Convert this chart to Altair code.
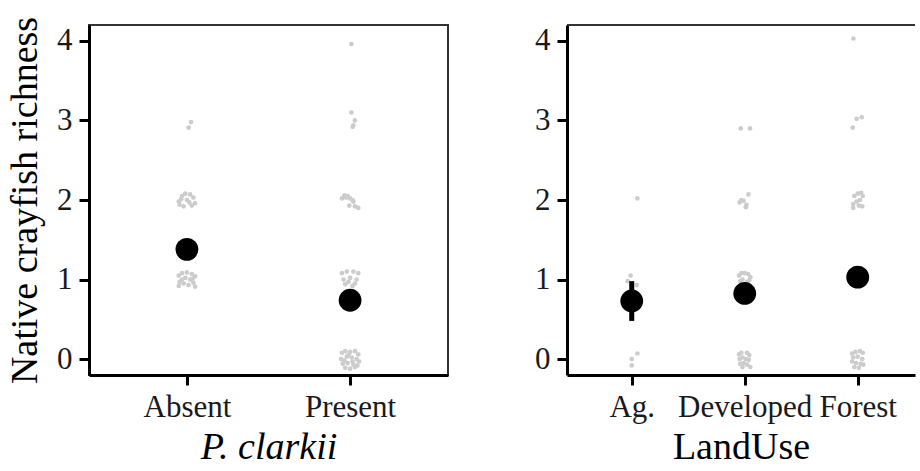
import json
import altair as alt
import pandas as pd

# ---------------- data ----------------
clarkii_levels = ["Absent", "Present"]
landuse_levels = ["Ag.", "Developed", "Forest"]

# raw site observations: horizontal jitter (in category units) and jittered richness
absent_dx = [0.025, 0.011,
             -0.05, -0.03, -0.01, 0.02, 0.04, 0.05, 0.03, -0.02, -0.045, 0.0, 0.015, -0.035,
             -0.05, -0.03, 0.0, 0.03, 0.05, -0.045, -0.02, 0.01, 0.04, 0.05, -0.05, -0.01, 0.02, -0.03, 0.035]
absent_y = [2.98, 2.91,
            1.98, 2.05, 2.08, 2.07, 2.03, 1.96, 1.93, 1.92, 1.94, 2.0, 1.97, 2.01,
            1.05, 1.08, 1.09, 1.07, 1.04, 0.97, 0.95, 0.93, 0.96, 0.91, 0.92, 1.02, 1.0, 1.0, 1.01]

present_dx = [0.008,
              0.008, 0.029, 0.02, 0.016,
              -0.05, -0.035, -0.015, 0.0, 0.02, 0.03, 0.05, -0.005, 0.015, -0.025,
              -0.05, -0.02, 0.02, 0.05, -0.04, 0.0, 0.04, -0.03, 0.03, -0.01, 0.015,
              -0.05, -0.03, 0.0, 0.03, 0.05, -0.055, -0.02, 0.01, 0.04, 0.055,
              -0.045, -0.015, 0.02, 0.045, -0.03, 0.0, 0.03, -0.01, 0.015, -0.035]
present_y = [3.96,
             3.10, 3.0, 2.94, 2.92,
             2.02, 2.06, 2.05, 2.02, 1.98, 1.92, 1.9, 1.93, 2.0, 2.03,
             1.08, 1.1, 1.1, 1.08, 1.0, 1.02, 1.0, 0.94, 0.95, 0.97, 0.92,
             0.08, 0.1, 0.09, 0.1, 0.06, 0.0, 0.03, 0.02, 0.0, -0.03,
             -0.06, -0.05, -0.07, -0.08, -0.11, -0.12, -0.1, 0.05, -0.03, -0.02]

ag_dx = [0.05, -0.01, -0.035, 0.045, 0.05, 0.0, 0.0]
ag_y = [2.02, 1.05, 0.98, 0.93, 0.07, 0.0, -0.08]

developed_dx = [-0.035, 0.047,
                -0.045, -0.03, -0.01, 0.033, 0.015, 0.01,
                -0.05, -0.03, 0.0, 0.03, 0.05, -0.04, 0.04, -0.02, 0.02,
                -0.05, -0.03, 0.02, 0.04, -0.045, -0.02, 0.01, 0.035, -0.04, -0.01, 0.02, 0.05, -0.02]
developed_y = [2.90, 2.90,
               1.97, 2.0, 1.99, 2.07, 1.94, 1.91,
               1.05, 1.08, 1.08, 1.07, 1.03, 0.98, 0.99, 1.0, 0.97,
               0.06, 0.08, 0.08, 0.05, 0.0, 0.02, 0.0, -0.01, -0.06, -0.05, -0.07, -0.1, -0.1]

forest_dx = [-0.038,
             -0.044, -0.009, 0.035,
             -0.04, -0.03, 0.0, 0.03, 0.045, 0.02, -0.01, 0.04, -0.04, 0.01,
             -0.03, 0.02, 0.0,
             -0.05, -0.02, 0.02, 0.045, -0.04, 0.0, 0.04, -0.05, -0.015, 0.025, 0.05, -0.03, 0.01]
forest_y = [4.03,
            2.91, 3.02, 3.04,
            1.95, 2.05, 2.08, 2.09, 2.05, 2.0, 1.98, 1.92, 1.9, 1.93,
            1.0, 1.05, 0.95,
            0.07, 0.09, 0.1, 0.08, 0.02, 0.03, 0.0, -0.03, -0.05, -0.06, -0.07, -0.1, -0.11]

# model estimates (mean and interval)
clarkii_mean = [1.38, 0.74]
clarkii_lo = [1.27, 0.65]
clarkii_hi = [1.49, 0.84]
landuse_mean = [0.73, 0.825, 1.03]
landuse_lo = [0.48, 0.72, 0.92]
landuse_hi = [0.98, 0.93, 1.14]

# ---------------- build tables ----------------
def raw_table(groups):
    rows = []
    for idx, (dx, ys) in enumerate(groups):
        for d, y in zip(dx, ys):
            rows.append({"x": idx + d, "y": y})
    return pd.DataFrame(rows)

raw_left = raw_table([(absent_dx, absent_y), (present_dx, present_y)])
raw_right = raw_table([(ag_dx, ag_y), (developed_dx, developed_y), (forest_dx, forest_y)])

est_left = pd.DataFrame({"x": list(range(len(clarkii_levels))), "y": clarkii_mean,
                         "lo": clarkii_lo, "hi": clarkii_hi})
est_right = pd.DataFrame({"x": list(range(len(landuse_levels))), "y": landuse_mean,
                          "lo": landuse_lo, "hi": landuse_hi})

FONT = "Liberation Serif"
GREY = "#cccccc"
ydomain = [-0.2, 4.2]


def panel(raw, est, levels, xdomain, width, xtitle, italic, ytitle, show_border):
    xscale = alt.Scale(domain=xdomain, nice=False, zero=False)
    yscale = alt.Scale(domain=ydomain, nice=False, zero=False)
    xaxis = alt.Axis(values=list(range(len(levels))),
                     labelExpr=json.dumps(levels) + "[datum.value]",
                     title=xtitle, titleFontStyle="italic" if italic else "normal")
    yaxis = alt.Axis(values=[0, 1, 2, 3, 4], format="d", title=ytitle)

    pts = alt.Chart(raw).mark_circle(size=22, color=GREY, opacity=1).encode(
        x=alt.X("x:Q", scale=xscale, axis=xaxis),
        y=alt.Y("y:Q", scale=yscale, axis=yaxis),
    )
    bars = alt.Chart(est).mark_rule(color="black", strokeWidth=5).encode(
        x=alt.X("x:Q", scale=xscale),
        y=alt.Y("lo:Q", scale=yscale),
        y2="hi:Q",
    )
    dots = alt.Chart(est).mark_circle(size=520, color="black", opacity=1).encode(
        x=alt.X("x:Q", scale=xscale),
        y=alt.Y("y:Q", scale=yscale),
    )
    layers = [pts, bars, dots]
    if not show_border:
        top = alt.Chart(alt.Data(values=[{}])).mark_rule(color="#333333", strokeWidth=2).encode(
            x=alt.value(0), x2=alt.value(width), y=alt.value(0))
        layers.append(top)
    ch = alt.layer(*layers).properties(width=width, height=350)
    if not show_border:
        ch = ch.properties(view=alt.ViewBackground(strokeOpacity=0))
    return ch


left = panel(raw_left, est_left, clarkii_levels, [-0.6, 1.6], 359,
             "P. clarkii", True, "Native crayfish richness", True)
right = panel(raw_right, est_right, landuse_levels, [-0.573, 2.507], 348,
              "LandUse", False, None, False)

chart = alt.hconcat(left, right, spacing=85).properties(
    padding={"left": 5, "top": 15, "right": 0, "bottom": 0}
).configure_view(
    stroke="#333333", strokeWidth=2
).configure_axis(
    grid=False,
    domainColor="black", domainWidth=3,
    tickColor="black", tickWidth=3, tickSize=10,
    labelFont=FONT, labelFontSize=31, labelColor="#1a1a1a", labelPadding=7,
    titleFont=FONT, titleFontSize=38, titleFontWeight="normal", titleColor="black",
    labelFlush=False,
).configure_axisX(
    titlePadding=6,
).configure_axisY(
    titlePadding=12,
)

chart.save("out.html", embed_options={"renderer": "svg", "actions": False})
